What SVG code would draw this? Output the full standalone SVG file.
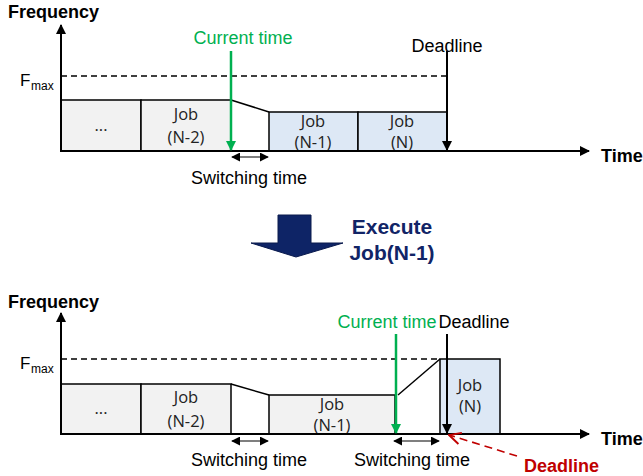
<svg xmlns="http://www.w3.org/2000/svg" width="643" height="476" viewBox="0 0 643 476">
  <defs>
    <marker id="ah" viewBox="0 0 10 10" refX="9" refY="5" markerWidth="10" markerHeight="10" markerUnits="userSpaceOnUse" orient="auto">
      <path d="M0,0 L10,5 L0,10 Z" fill="#000"/>
    </marker>
    <marker id="ahg" viewBox="0 0 10 10" refX="9" refY="5" markerWidth="10" markerHeight="10" markerUnits="userSpaceOnUse" orient="auto">
      <path d="M0,0 L10,5 L0,10 Z" fill="#00b050"/>
    </marker>
    <marker id="ahs" viewBox="0 0 10 10" refX="9" refY="5" markerWidth="9" markerHeight="9" markerUnits="userSpaceOnUse" orient="auto-start-reverse">
      <path d="M0,0 L10,5 L0,10 Z" fill="#000"/>
    </marker>
    <marker id="ahr" viewBox="0 0 12 12" refX="11" refY="6" markerWidth="14" markerHeight="14" markerUnits="userSpaceOnUse" orient="auto">
      <path d="M1,1 L11,6 L1,11" fill="none" stroke="#c00000" stroke-width="1.6"/>
    </marker>
  </defs>
  <style>
    .axis { stroke: #000; stroke-width: 2; fill: none; }
    .fmax { stroke: #000; stroke-width: 1.6; stroke-dasharray: 6 4; fill: none; }
    .gray { fill: #f2f2f2; stroke: #000; stroke-width: 1.5; }
    .blue { fill: #dde8f5; stroke: #000; stroke-width: 1.5; }
    .line { stroke: #000; stroke-width: 1.5; fill: none; }
    .ttl { font-family: "Liberation Sans", Arial, sans-serif; font-weight: bold; font-size: 18px; fill: #000; }
    .lbl { font-family: "Liberation Sans", Arial, sans-serif; font-size: 18px; fill: #000; }
    .green { fill: #00b050; }
    .job { font-family: "Open Sans", "Liberation Sans", sans-serif; font-size: 16.5px; fill: #222; text-anchor: middle; }
    .f { font-family: "Liberation Sans", Arial, sans-serif; font-size: 17px; fill: #000; }
    .sub { font-family: "Liberation Sans", Arial, sans-serif; font-size: 12px; fill: #000; }
    .navy { font-family: "Liberation Sans", Arial, sans-serif; font-weight: bold; font-size: 21px; fill: #112466; text-anchor: middle; }
  </style>

  <!-- Upper chart: before executing Job(N-1) -->
  <g id="top-chart">
    <text class="ttl" x="8" y="18">Frequency</text>
    <text class="ttl" x="601" y="162">Time</text>
    <text class="f" x="20" y="86">F</text><text class="sub" x="31" y="90">max</text>
    <line class="fmax" x1="61" y1="76" x2="447" y2="76"/>
    <g id="top-job-dots">
      <rect class="gray" x="61" y="100" width="80" height="51"/>
      <text class="job" x="101" y="131">...</text>
    </g>
    <g id="top-job-n2">
      <rect class="gray" x="141" y="100" width="90" height="51"/>
      <text class="job" x="186" y="120">Job</text>
      <text class="job" x="186" y="143">(N-2)</text>
    </g>
    <g id="top-job-n1">
      <rect class="blue" x="269" y="112" width="89" height="39"/>
      <text class="job" x="313" y="127">Job</text>
      <text class="job" x="313" y="148">(N-1)</text>
    </g>
    <g id="top-job-n">
      <rect class="blue" x="358" y="112" width="89" height="39"/>
      <text class="job" x="402" y="127">Job</text>
      <text class="job" x="402" y="148">(N)</text>
    </g>
    <text class="lbl green" x="243" y="44" text-anchor="middle">Current time</text>
    <text class="lbl" x="447" y="52" text-anchor="middle">Deadline</text>
    <text class="lbl" x="249" y="184" text-anchor="middle">Switching time</text>
  </g>

  <!-- Transition arrow -->
  <g id="execute">
    <path d="M278,215 L311,215 L311,243 L343,243 L296,257 L251,243 L278,243 Z" fill="#0e2466" stroke="#0a1a4d" stroke-width="1"/>
    <text class="navy" x="392" y="234">Execute</text>
    <text class="navy" x="392" y="260">Job(N-1)</text>
  </g>

  <!-- Lower chart: after executing Job(N-1) -->
  <g id="bottom-chart">
    <text class="ttl" x="8" y="308">Frequency</text>
    <text class="ttl" x="601" y="445">Time</text>
    <text class="f" x="20" y="369">F</text><text class="sub" x="31" y="373">max</text>
    <line class="fmax" x1="61" y1="359" x2="440" y2="359"/>
    <g id="bot-job-dots">
      <rect class="gray" x="61" y="384" width="80" height="50"/>
      <text class="job" x="101" y="414">...</text>
    </g>
    <g id="bot-job-n2">
      <rect class="gray" x="141" y="384" width="90" height="50"/>
      <text class="job" x="186" y="403">Job</text>
      <text class="job" x="186" y="427">(N-2)</text>
    </g>
    <g id="bot-job-n1">
      <rect class="gray" x="269" y="395" width="126" height="39"/>
      <text class="job" x="332" y="410">Job</text>
      <text class="job" x="332" y="431">(N-1)</text>
    </g>
    <g id="bot-job-n">
      <rect class="blue" x="440" y="359" width="60" height="75"/>
      <text class="job" x="470" y="391">Job</text>
      <text class="job" x="470" y="412">(N)</text>
    </g>
    <text class="lbl green" x="387" y="328" text-anchor="middle">Current time</text>
    <text class="lbl" x="474" y="328" text-anchor="middle">Deadline</text>
    <text class="lbl" x="249" y="466" text-anchor="middle">Switching time</text>
    <text class="lbl" x="412" y="466" text-anchor="middle">Switching time</text>
    <text class="ttl" x="524" y="472" style="fill:#c00000">Deadline</text>
  </g>

  <!-- Axes, frequency transitions and markers -->
  <g id="connectors">
    <!-- upper -->
    <line class="axis" x1="61" y1="152" x2="61" y2="25" marker-end="url(#ah)"/>
    <line class="axis" x1="60" y1="151" x2="589" y2="151" marker-end="url(#ah)"/>
    <line class="line" x1="231" y1="100" x2="269" y2="112"/>
    <line x1="231" y1="51" x2="231" y2="150" stroke="#00b050" stroke-width="2.5" marker-end="url(#ahg)"/>
    <line x1="447" y1="51" x2="447" y2="150" stroke="#000" stroke-width="2" marker-end="url(#ah)"/>
    <line x1="232" y1="157" x2="268" y2="157" stroke="#000" stroke-width="1.2" marker-start="url(#ahs)" marker-end="url(#ahs)"/>
    <!-- lower -->
    <line class="axis" x1="61" y1="435" x2="61" y2="313" marker-end="url(#ah)"/>
    <line class="axis" x1="60" y1="434" x2="589" y2="434" marker-end="url(#ah)"/>
    <line class="line" x1="231" y1="384" x2="269" y2="395"/>
    <line class="line" x1="398" y1="395" x2="440" y2="359"/>
    <line x1="396" y1="334" x2="396" y2="433" stroke="#00b050" stroke-width="2.5" marker-end="url(#ahg)"/>
    <line x1="447" y1="334" x2="447" y2="433" stroke="#000" stroke-width="2" marker-end="url(#ah)"/>
    <line x1="232" y1="441" x2="268" y2="441" stroke="#000" stroke-width="1.2" marker-start="url(#ahs)" marker-end="url(#ahs)"/>
    <line x1="394" y1="441" x2="439" y2="441" stroke="#000" stroke-width="1.2" marker-start="url(#ahs)" marker-end="url(#ahs)"/>
    <line x1="517" y1="456" x2="449" y2="435" stroke="#c00000" stroke-width="1.6" stroke-dasharray="8 5" marker-end="url(#ahr)"/>
  </g>
</svg>
